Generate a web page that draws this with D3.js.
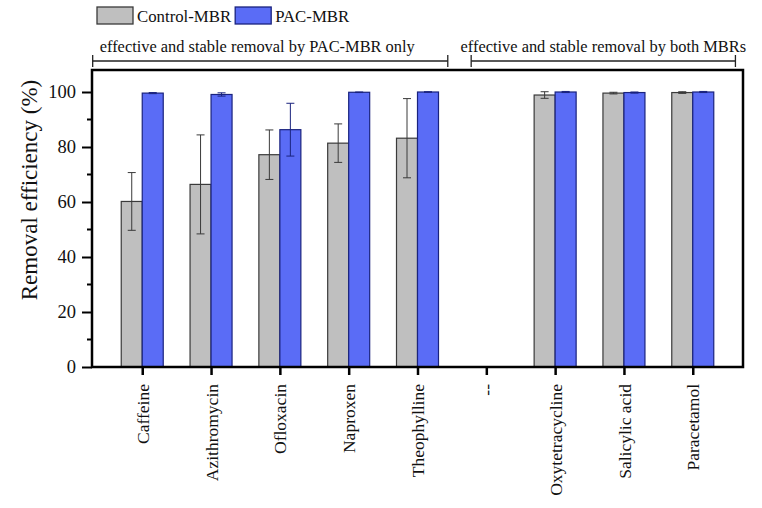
<!DOCTYPE html>
<html>
<head>
<meta charset="utf-8">
<script src="https://cdn.jsdelivr.net/npm/d3@7"></script>
<style>
  body { margin: 0; background: #fff; }
  svg, svg text { font-family: "Liberation Serif", "DejaVu Serif", serif; }
</style>
</head>
<body>
<svg id="chart" width="762" height="508"></svg>
<script>
const categories = ['Caffeine', 'Azithromycin', 'Ofloxacin', 'Naproxen', 'Theophylline', '--',
  'Oxytetracycline', 'Salicylic acid', 'Paracetamol'];
const seriesNames = ['Control-MBR', 'PAC-MBR'];
const controlMean = [60.2, 66.4, 77.2, 81.4, 83.2, null, 98.9, 99.6, 99.8];
const controlErr = [10.5, 18, 9, 7, 14.4, null, 1.2, 0.3, 0.3];
const pacMean = [99.6, 99.1, 86.3, 99.9, 100, null, 100, 99.8, 100];
const pacErr = [0.2, 0.6, 9.6, 0.1, 0.1, null, 0.2, 0.2, 0.2];
const yTicks = [0, 20, 40, 60, 80, 100];
const groupTexts = ['effective and stable removal by PAC-MBR only', 'effective and stable removal by both MBRs'];
// bracket ends, in category steps from the first category
const groupSpans = [[-0.72, 4.44], [4.78, 8.62]];
const groupTextShift = [-13, 0];

const colors = ['#bfbfbf', '#5a6cf6'];
const strokes = ['#3a3a3a', '#1a237e'];

const svg = d3.select('#chart');
const margin = { top: 70, right: 19, bottom: 141, left: 92 };
const width = 762 - margin.left - margin.right;
const height = 508 - margin.top - margin.bottom;

const x = d3.scalePoint().domain(categories).range([0, width]).padding(0.73);
const y = d3.scaleLinear().domain([0, 108]).range([height, 0]);
const barW = 21;
const step = x.step();

const g = svg.append('g').attr('transform', `translate(${margin.left},${margin.top})`);

// bars
const rows = categories.map((c, i) => ({
  c,
  vals: [controlMean[i], pacMean[i]],
  errs: [controlErr[i], pacErr[i]]
})).filter(d => d.vals[0] !== null);

rows.forEach(row => {
  row.vals.forEach((v, s) => {
    const x0 = x(row.c) + (s === 0 ? -barW : 0);
    g.append('rect')
      .attr('x', x0)
      .attr('y', y(v))
      .attr('width', barW)
      .attr('height', height - y(v))
      .attr('fill', colors[s])
      .attr('stroke', strokes[s])
      .attr('stroke-width', 1.2);
    const cx = x0 + barW / 2;
    const e = row.errs[s];
    const errG = g.append('g').attr('stroke', strokes[s]).attr('stroke-width', 1);
    errG.append('line').attr('x1', cx).attr('x2', cx).attr('y1', y(v + e)).attr('y2', y(v - e));
    errG.append('line').attr('x1', cx - 4).attr('x2', cx + 4).attr('y1', y(v + e)).attr('y2', y(v + e));
    errG.append('line').attr('x1', cx - 4).attr('x2', cx + 4).attr('y1', y(v - e)).attr('y2', y(v - e));
  });
});

// y axis
const yAxis = g.append('g')
  .call(d3.axisLeft(y).tickValues(yTicks).tickSize(10).tickPadding(6));
yAxis.attr('font-family', '"Liberation Serif", serif');
yAxis.selectAll('text').attr('font-size', 18.5).attr('fill', '#111');
yAxis.selectAll('line').attr('stroke', '#000').attr('stroke-width', 2);
yAxis.select('.domain').remove();
g.append('g').selectAll('line')
  .data(d3.range(10, 108, 20))
  .join('line')
  .attr('x1', -5).attr('x2', 0)
  .attr('y1', d => y(d)).attr('y2', d => y(d))
  .attr('stroke', '#000').attr('stroke-width', 2);

// x axis
const xAxis = g.append('g')
  .attr('transform', `translate(0,${height})`)
  .call(d3.axisBottom(x).tickSize(8).tickPadding(0));
xAxis.attr('font-family', '"Liberation Serif", serif');
xAxis.select('.domain').remove();
xAxis.selectAll('line').attr('stroke', '#000').attr('stroke-width', 2.5);
xAxis.selectAll('text')
  .attr('font-size', 17.5)
  .attr('fill', '#111')
  .attr('transform', 'rotate(-90)')
  .attr('text-anchor', 'end')
  .attr('dy', '0.35em')
  .attr('x', -17)
  .attr('y', 0);

// frame
g.append('rect')
  .attr('x', 0).attr('y', 0)
  .attr('width', width).attr('height', height)
  .attr('fill', 'none')
  .attr('stroke', '#000')
  .attr('stroke-width', 2.5);

// y label
svg.append('text')
  .attr('transform', `translate(37,190) rotate(-90)`)
  .attr('text-anchor', 'middle')
  .attr('font-size', 23)
  .attr('fill', '#111')
  .text('Removal efficiency (%)');

// group brackets
groupTexts.forEach((txt, i) => {
  const x1 = x(categories[0]) + groupSpans[i][0] * step;
  const x2 = x(categories[0]) + groupSpans[i][1] * step;
  const by = -9;
  const bg = g.append('g').attr('stroke', '#222').attr('stroke-width', 1.3);
  bg.append('line').attr('x1', x1).attr('x2', x2).attr('y1', by).attr('y2', by);
  bg.append('line').attr('x1', x1).attr('x2', x1).attr('y1', by - 6).attr('y2', by + 6);
  bg.append('line').attr('x1', x2).attr('x2', x2).attr('y1', by - 6).attr('y2', by + 6);
  g.append('text')
    .attr('x', (x1 + x2) / 2 + groupTextShift[i])
    .attr('y', -18.5)
    .attr('text-anchor', 'middle')
    .attr('font-size', 16.4)
    .attr('fill', '#111')
    .text(txt);
});

// legend
const legend = svg.append('g').attr('transform', 'translate(97,7)');
let lx = 0;
seriesNames.forEach((name, i) => {
  legend.append('rect')
    .attr('x', lx).attr('y', 0)
    .attr('width', 36).attr('height', 17)
    .attr('fill', colors[i])
    .attr('stroke', strokes[i])
    .attr('stroke-width', 1.3);
  const t = legend.append('text')
    .attr('x', lx + 40).attr('y', 14.5)
    .attr('font-size', 16.8)
    .attr('fill', '#111')
    .text(name);
  lx += 40 + t.node().getComputedTextLength() + 4;
});
</script>
</body>
</html>
